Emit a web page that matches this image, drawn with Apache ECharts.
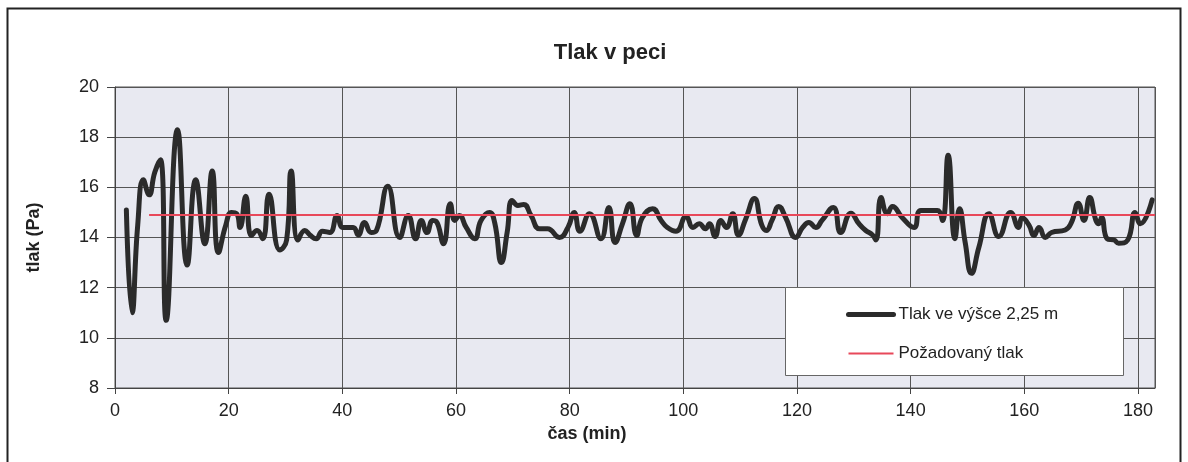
<!DOCTYPE html>
<html><head><meta charset="utf-8">
<script src="https://cdn.jsdelivr.net/npm/echarts@6/dist/echarts.min.js"></script>
<style>html,body{margin:0;padding:0;background:#fff}#c{width:1188px;height:462px}</style>
</head><body><div id="c"></div>
<script>
const xTickLabels = ['0','20','40','60','80','100','120','140','160','180'];
const yTickLabels = ['8','10','12','14','16','18','20'];
const pressureTimes = [2,3,4,5,6,7,8,9,11,12.7,14.2,15.8,17.1,18.2,19.5,20.5,21.4,22,23,24,25,26,27.1,29,30.2,31,32.2,33.4,34.3,35.4,36.5,37.8,39.1,40.1,41.9,42.8,43.9,45.1,46,48,50.1,51.6,52.9,53.9,54.9,55.9,56.5,57.8,59,59.8,60.6,61.8,63.3,64.4,65.9,66.8,68,69,69.9,70.9,71.9,73.2,74.7,76.1,78.2,79.7,80.8,81.8,83.5,85.5,86.9,88,89.3,90.6,91.8,92.8,94.6,96.1,97.2,98.7,100.5,101.7,102.8,103.9,104.6,105.6,106.6,107.6,108.7,109.7,111,112.5,113.8,114.6,115.6,116.8,118,119.8,121,122.1,123.3,124.4,126.4,127.7,129.5,130.9,132.1,133.3,133.9,134.8,135.9,136.8,138.5,140.6,141.8,144.7,145.6,146.6,147.8,148.6,149.6,150.7,152,153.8,155.5,157.6,159,159.6,160.8,161.7,162.6,163.7,164.8,167.2,168.3,169.5,170.5,171.5,172.6,173.1,173.6,174.6,175.8,176.6,178.2,179.5,180.4,182.5];
const pressureValues = [15.1,11.0,14.5,16.3,15.7,16.6,17.1,10.7,18.3,12.9,16.3,13.75,16.65,13.4,14.5,15.0,14.95,14.4,15.64,14.08,14.28,13.95,15.72,13.5,13.9,16.65,13.9,14.28,14.1,13.95,14.25,14.2,14.88,14.4,14.4,14.1,14.6,14.2,14.28,16.04,14.0,14.88,13.95,14.68,14.2,14.68,14.65,13.75,15.35,14.68,14.88,14.4,13.95,14.68,15.0,14.6,13.0,14.2,15.48,15.28,15.32,14.88,14.35,14.35,14.0,14.4,15.0,14.25,14.95,13.95,15.2,13.8,14.55,15.35,14.08,14.8,15.15,14.68,14.4,14.25,14.84,14.4,14.55,14.35,14.55,14.04,14.68,14.4,14.95,14.1,14.75,15.55,14.5,14.28,14.68,15.24,14.8,14.0,14.4,14.6,14.4,14.68,15.2,14.2,14.97,14.55,14.28,14.1,13.9,15.59,14.95,15.24,14.8,14.4,15.08,15.08,14.68,17.28,13.95,15.15,13.8,12.57,13.6,14.95,14.04,15.0,14.4,14.8,14.5,14.08,14.4,14.0,14.2,14.3,14.6,15.37,14.68,15.59,14.68,14.55,14.8,13.95,13.9,13.77,13.9,15.0,14.55,15.5];
const setpointTimes = [6, 183];
const setpointValues = [14.9, 14.9];

const chart = echarts.init(document.getElementById('c'));
const font = 'Liberation Sans, Arial, sans-serif';
chart.setOption({
  animation: false,
  textStyle: {fontFamily: font},
  title: {text: 'Tlak v peci', left: 605, top: 37, textAlign: 'center',
    textStyle: {fontSize: 22, fontWeight: 'bold', color: '#222', fontFamily: font}},
  grid: {left: 115, right: 1188-1155, top: 87, bottom: 462-388, backgroundColor: '#e8e9f1', show: true, borderColor: '#555', borderWidth: 1},
  graphic: [
    {type: 'rect', shape: {x: 7.5, y: 8.5, width: 1173, height: 470}, style: {fill: 'none', stroke: '#222', lineWidth: 2}, z: 0},
    {type: 'rect', shape: {x: 785.5, y: 287.5, width: 338, height: 88}, style: {fill: '#fff', stroke: '#666', lineWidth: 1}, z: 5}
  ],
  legend: {left: 785 + 56, top: 287 + 14, orient: 'vertical', itemWidth: 45, itemHeight: 18, itemGap: 22,
    z: 10, itemStyle: {opacity: 0}, textStyle: {fontSize: 17, color: '#222', fontFamily: font},
    data: [
      {name: 'Tlak ve výšce 2,25 m', lineStyle: {width: 5, color: '#2b2b2b', cap: 'round'}},
      {name: 'Požadovaný tlak', lineStyle: {width: 2, color: '#e8485a'}}
    ]},
  xAxis: {type: 'value', min: 0, max: 183, interval: 20,
    name: 'čas (min)', nameLocation: 'middle', nameGap: 35,
    nameTextStyle: {fontSize: 18, fontWeight: 'bold', color: '#222', padding: [0, 96, 0, 0]},
    axisLine: {lineStyle: {color: '#444'}}, axisTick: {show: true, length: 6, lineStyle: {color: '#444'}},
    axisLabel: {fontSize: 18, color: '#222', margin: 14, showMaxLabel: false,
      formatter: v => xTickLabels.includes(String(v)) ? String(v) : ''},
    splitLine: {show: true, lineStyle: {color: '#555', width: 1}}},
  yAxis: {type: 'value', min: 8, max: 20, interval: 2,
    name: 'tlak (Pa)', nameLocation: 'middle', nameGap: 72, nameRotate: 90,
    nameTextStyle: {fontSize: 18, fontWeight: 'bold', color: '#222'},
    axisLine: {show: true, lineStyle: {color: '#444'}}, axisTick: {show: true, length: 8, lineStyle: {color: '#444'}},
    axisLabel: {fontSize: 18, color: '#222', margin: 16,
      formatter: v => yTickLabels.includes(String(v)) ? String(v) : ''},
    splitLine: {show: true, lineStyle: {color: '#555', width: 1}}},
  series: [
    {name: 'Tlak ve výšce 2,25 m', type: 'line', symbol: 'none', smooth: 0.5, z: 3,
      lineStyle: {color: '#2b2b2b', width: 5, cap: 'round', join: 'round'}, itemStyle: {color: '#2b2b2b'},
      data: pressureTimes.map((t, i) => [t, pressureValues[i]])},
    {name: 'Požadovaný tlak', type: 'line', symbol: 'none', z: 4,
      lineStyle: {color: '#e8485a', width: 2}, itemStyle: {color: '#e8485a'},
      data: setpointTimes.map((t, i) => [t, setpointValues[i]])}
  ]
});
</script></body></html>
